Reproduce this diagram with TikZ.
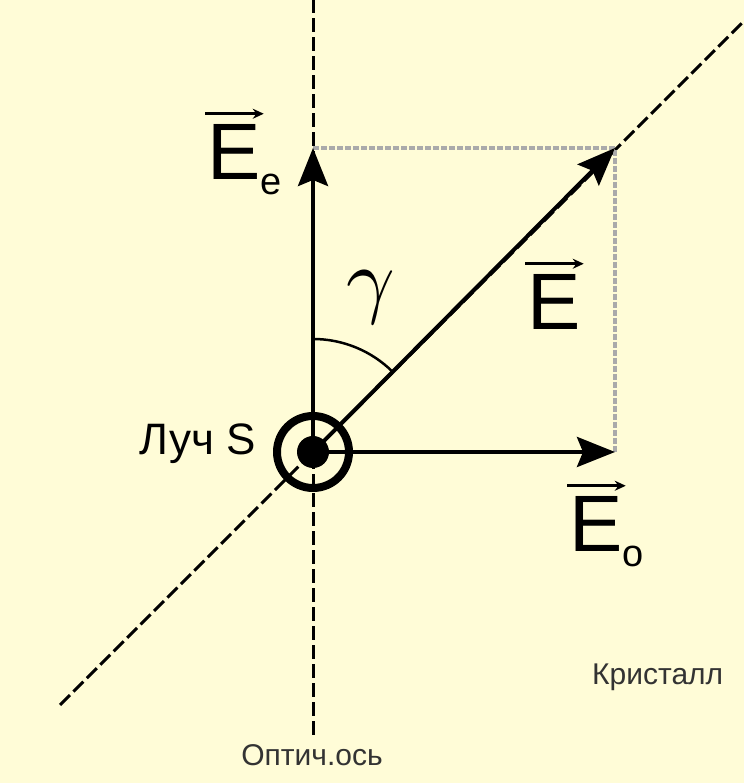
\documentclass[tikz,border=0pt]{standalone}
\usepackage{fontspec}
\setmainfont{Liberation Sans}
\usetikzlibrary{arrows.meta}
\definecolor{paper}{RGB}{255,252,215}
\definecolor{guide}{RGB}{170,170,170}
\tikzstyle{axis} = [line width=3pt, dash pattern=on 14pt off 5pt]
\tikzstyle{proj} = [guide, line width=4pt, dash pattern=on 6pt off 2pt]
\tikzstyle{vecarrow} = [line width=4pt, -{Stealth[length=38pt,width=30pt,inset=6pt]}]
\tikzstyle{vecbar} = [line width=3pt, -{Stealth[length=11pt,width=10pt]}]
\tikzstyle{biglabel} = [inner sep=0pt, font=\fontsize{80}{80}\selectfont]
\tikzstyle{smalllabel} = [inner sep=0pt, font=\fontsize{30}{30}\selectfont, text=black!80]
\tikzstyle{ring} = [circle, draw, line width=8pt, minimum size=72pt, inner sep=0pt]
\tikzstyle{fdot} = [circle, fill, minimum size=32pt, inner sep=0pt]
\newcommand{\sub}[1]{\rlap{\raisebox{-15pt}{\fontsize{38}{38}\selectfont #1}}}

\begin{document}
\begin{tikzpicture}[x=1pt, y=1pt]
\fill [paper] (0,0) rectangle (744,783);
\useasboundingbox (0,0) rectangle (744,783);

\coordinate (O) at (313,331);
\coordinate (tipe) at (313,635);
\coordinate (tipo) at (615,331);
\coordinate (tip) at (615,635);
\coordinate (axtop) at (313,783);
\coordinate (axbot) at (313,48);
\coordinate (crtop) at (744,762);
\coordinate (crbot) at (60,78);

% optical axis and crystal trace
\draw [axis] (axbot) -- (axtop);
\draw [axis] (crbot) -- (crtop);
\draw [proj] (tipe) -- (tip) -- (tipo);

% field vectors
\draw [vecarrow] (O) -- (tipe);
\draw [vecarrow] (O) -- (tipo);
\draw [vecarrow] (O) -- (tip);
\draw [line width=2.5pt] ([shift={(90:113pt)}]O) arc [start angle=90, end angle=45, radius=113pt];

% ray S
\node (ray) [ring] at (O) {};
\node (raydot) [fdot] at (O) {};

% labels
\node (Ee) [biglabel, anchor=base west] at (207,603) {E\sub{e}};
\node (E) [biglabel, anchor=base west] at (527,453) {E};
\node (Eo) [biglabel, anchor=base west] at (569,231) {E\sub{o}};
\draw [vecbar] ([xshift=-2pt,yshift=11pt]Ee.north west) -- ([xshift=3pt,yshift=11pt]Ee.north east);
\draw [vecbar] ([xshift=-2pt,yshift=11pt]E.north west) -- ([xshift=3pt,yshift=11pt]E.north east);
\draw [vecbar] ([xshift=-2pt,yshift=11pt]Eo.north west) -- ([xshift=3pt,yshift=11pt]Eo.north east);
\node (gam) [inner sep=0pt, scale=8.5] at (371,486) {$\gamma$};
\node (rayname) [inner sep=0pt, anchor=base east, font=\fontsize{44}{44}\selectfont] at (256,328) {Луч S};
\node (crystal) [smalllabel, anchor=base west] at (592,98) {Кристалл};
\node (optax) [smalllabel, anchor=base] at (312,17) {Оптич.ось};

\end{tikzpicture}
\end{document}
